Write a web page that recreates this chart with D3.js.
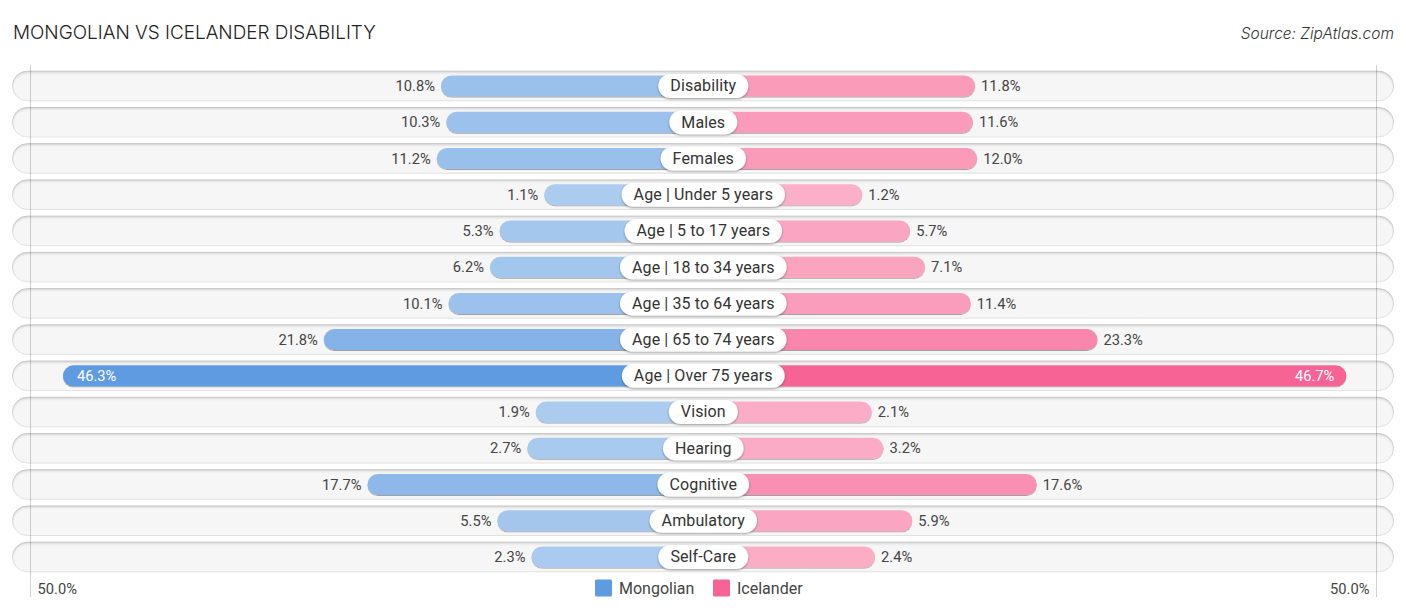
<!DOCTYPE html>
<html><head><meta charset="utf-8">
<script src="https://cdn.jsdelivr.net/npm/d3@7"></script>
<style>html,body{margin:0;padding:0;background:#fff}svg{display:block}</style></head>
<body><svg id="c" width="1406" height="612"></svg>
<script>
const categories=["Disability","Males","Females","Age | Under 5 years","Age | 5 to 17 years","Age | 18 to 34 years","Age | 35 to 64 years","Age | 65 to 74 years","Age | Over 75 years","Vision","Hearing","Cognitive","Ambulatory","Self-Care"];
const mongolian=[10.8,10.3,11.2,1.1,5.3,6.2,10.1,21.8,46.3,1.9,2.7,17.7,5.5,2.3];
const icelander=[11.8,11.6,12.0,1.2,5.7,7.1,11.4,23.3,46.7,2.1,3.2,17.6,5.9,2.4];
const seriesNames=["Mongolian","Icelander"];
const seriesColors=["#5e9be0","#f76394"];
const axisLabel="50.0%";
const titleText="MONGOLIAN VS ICELANDER DISABILITY";
const sourceText="Source: ZipAtlas.com";

const svg=d3.select("#c");
const defs=svg.append("defs");
function shadow(id,dy,sd,op){
  const f=defs.append("filter").attr("id",id).attr("x","-5%").attr("y","-30%").attr("width","110%").attr("height","170%");
  f.append("feDropShadow").attr("dx",0).attr("dy",dy).attr("stdDeviation",sd).attr("flood-color","#000").attr("flood-opacity",op);
}
shadow("barS",1,0.7,0.35);
shadow("pillS",1,1,0.4);
const inner=defs.append("filter").attr("id","trackS").attr("x","-2%").attr("y","-20%").attr("width","104%").attr("height","140%");
inner.append("feOffset").attr("in","SourceAlpha").attr("dy",1.5).attr("result","o");
inner.append("feGaussianBlur").attr("in","o").attr("stdDeviation",1).attr("result","b");
inner.append("feComposite").attr("in","SourceAlpha").attr("in2","b").attr("operator","out").attr("result","i");
inner.append("feFlood").attr("flood-color","#000").attr("flood-opacity",0.28);
inner.append("feComposite").attr("in2","i").attr("operator","in").attr("result","s");
const mm=inner.append("feMerge");mm.append("feMergeNode").attr("in","SourceGraphic");mm.append("feMergeNode").attr("in","s");

const cx=703;
const y=d3.scalePoint().domain(categories).range([86,557]);
const lenLeft=d3.scaleLinear().domain([0,50]).range([147,679.5]);
const lenRight=d3.scaleLinear().domain([0,50]).range([146.5,678.5]);
const strength=d3.scaleLinear().domain([0,42]).range([0.5,1]).clamp(true);
const tint=(c,v)=>d3.interpolateRgb("#fff",c)(strength(v));
const trackH=29.5, barH=21;
const left=12.5,right=1393.5;

const rows=svg.append("g").selectAll("g").data(categories).join("g").attr("transform",d=>`translate(0,${y(d)})`);
rows.append("rect").attr("x",left).attr("y",-trackH/2).attr("width",right-left).attr("height",trackH)
  .attr("rx",trackH/2).attr("fill","#f6f6f6").attr("stroke","#e2e2e2").attr("stroke-width",1).attr("filter","url(#trackS)");

svg.append("g").selectAll("line").data([30.5,1376.5]).join("line")
  .attr("x1",d=>d).attr("x2",d=>d).attr("y1",65).attr("y2",597).attr("stroke","#000").attr("stroke-opacity",0.18);

const fontL="Roboto, sans-serif";
rows.each(function(d,i){
  const g=d3.select(this);
  const lm=lenLeft(mongolian[i]), li=lenRight(icelander[i]);
  g.append("rect").attr("x",cx-lm).attr("y",-barH/2).attr("width",lm).attr("height",barH).attr("rx",barH/2)
    .attr("fill",tint(seriesColors[0],mongolian[i])).attr("filter","url(#barS)");
  g.append("rect").attr("x",cx).attr("y",-barH/2).attr("width",li).attr("height",barH).attr("rx",barH/2)
    .attr("fill",tint(seriesColors[1],icelander[i])).attr("filter","url(#barS)");
  const inM=mongolian[i]>40, inI=icelander[i]>40;
  g.append("text").attr("x",inM?cx-lm+14:cx-lm-6).attr("y",0).attr("dy","0.35em")
    .attr("text-anchor",inM?"start":"end").attr("fill",inM?"#fff":"#444").attr("font-family",fontL).attr("font-size",14.7)
    .text(mongolian[i].toFixed(1)+"%");
  g.append("text").attr("x",inI?cx+li-12:cx+li+6).attr("y",0).attr("dy","0.35em")
    .attr("text-anchor",inI?"end":"start").attr("fill",inI?"#fff":"#444").attr("font-family",fontL).attr("font-size",14.7)
    .text(icelander[i].toFixed(1)+"%");
  const t=g.append("text").attr("x",cx+0.3).attr("y",-0.2).attr("dy","0.35em").attr("text-anchor","middle")
    .attr("fill","#333").attr("font-family",fontL).attr("font-size",16).attr("letter-spacing",0.12).text(d);
  const w=t.node().getComputedTextLength();
  g.insert("rect","text:last-of-type").attr("x",cx+0.3-w/2-12).attr("y",-12).attr("width",w+24).attr("height",24).attr("rx",12)
    .attr("fill","#fff").attr("filter","url(#pillS)");
});

svg.append("text").attr("x",13).attr("y",39).attr("font-family","Inter, sans-serif").attr("font-size",18.9).attr("font-weight",300).attr("fill","#222").text(titleText);
svg.append("text").attr("x",1394).attr("y",39).attr("text-anchor","end").attr("font-family","Inter, sans-serif").attr("font-style","italic").attr("font-size",15.5).attr("font-weight",300).attr("fill","#333").text(sourceText);

svg.append("text").attr("x",37.5).attr("y",594).attr("font-family",fontL).attr("font-size",14.7).attr("fill","#444").text(axisLabel);
svg.append("text").attr("x",1369.5).attr("y",594).attr("text-anchor","end").attr("font-family",fontL).attr("font-size",14.7).attr("fill","#444").text(axisLabel);

const lx=[595,713];
const leg=svg.append("g").selectAll("g").data(seriesNames).join("g").attr("transform",(d,i)=>`translate(${lx[i]},579.5)`);
leg.append("rect").attr("width",17).attr("height",17).attr("rx",1.5).attr("fill",(d,i)=>seriesColors[i]);
leg.append("text").attr("x",24).attr("y",9).attr("dy","0.35em").attr("font-family",fontL).attr("font-size",16).attr("fill","#444").text(d=>d);
</script></body></html>
